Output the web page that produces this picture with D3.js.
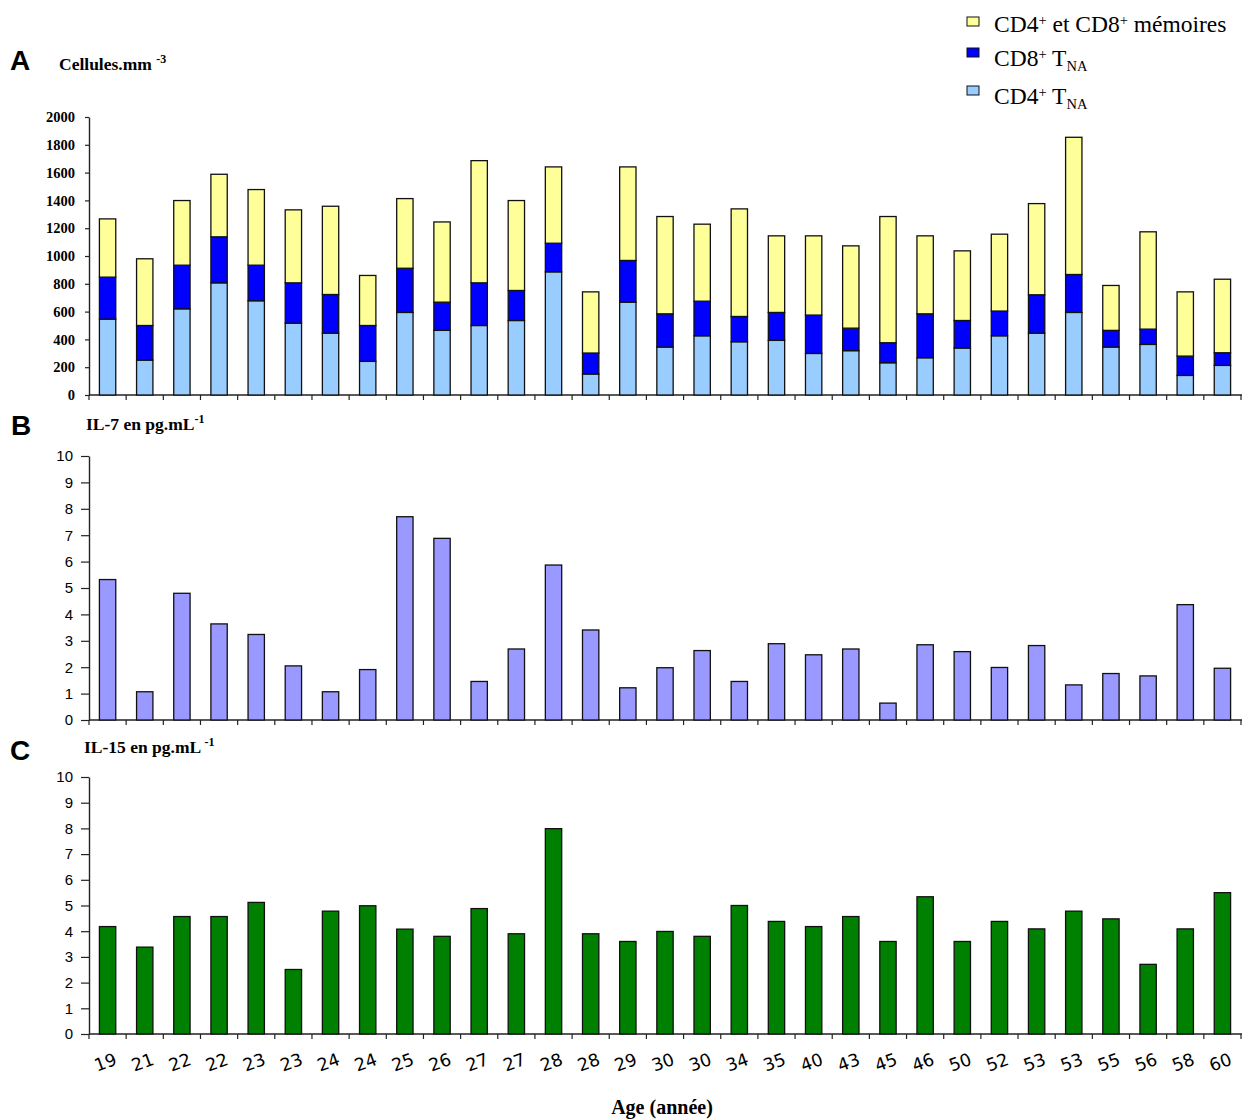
<!DOCTYPE html>
<html><head><meta charset="utf-8">
<script src="https://cdn.jsdelivr.net/npm/d3@7"></script>
<style>body{margin:0;background:#fff}svg{display:block}</style>
</head><body><svg id="c" width="1246" height="1120"></svg>
<script>
const ages=[19,21,22,22,23,23,24,24,25,26,27,27,28,28,29,30,30,34,35,40,43,45,46,50,52,53,53,55,56,58,60];
const cd4Naive=[546,251,620,807,678,517,445,242,594,465,500,536,886,151,668,345,426,383,393,299,319,232,268,338,426,445,594,345,364,141,213];
const cd8Naive=[302,249,314,331,256,290,278,258,318,203,307,216,206,151,300,239,249,182,201,276,162,144,316,198,178,276,273,120,110,139,91];
const memory=[419,480,465,450,544,525,635,360,501,577,879,647,549,440,673,700,554,774,551,570,592,908,561,501,553,656,987,323,700,462,529];
const il7=[5.32,1.07,4.8,3.64,3.24,2.05,1.07,1.91,7.7,6.88,1.46,2.69,5.87,3.41,1.22,1.98,2.63,1.46,2.89,2.47,2.69,0.64,2.85,2.59,1.99,2.82,1.33,1.76,1.67,4.37,1.96];
const il15=[4.18,3.38,4.57,4.57,5.12,2.51,4.78,4.99,4.08,3.8,4.88,3.9,7.99,3.9,3.6,3.99,3.8,5.0,4.38,4.18,4.57,3.6,5.34,3.6,4.38,4.09,4.78,4.48,2.71,4.09,5.5];
const cellTicks=[0,200,400,600,800,1000,1200,1400,1600,1800,2000];
const ilTicks=[0,1,2,3,4,5,6,7,8,9,10];
const seriesKeys=["cd4","cd8","mem"];
const seriesColors={cd4:"#99CCFF",cd8:"#0000FF",mem:"#FFFF99"};

const svg=d3.select("#c");
const x=d3.scaleBand().domain(d3.range(ages.length)).range([89,1241]).paddingInner(0.56).paddingOuter(0.28);
const gap=(x.step()-x.bandwidth())/2;

function axes(y,ticks,opts){
  const g=svg.append("g").attr("transform","translate(89,0)")
    .call(d3.axisLeft(y).tickValues(ticks).tickSize(opts.tickLen).tickSizeOuter(0).tickPadding(opts.pad).tickFormat(d3.format("d")));
  g.select(".domain").attr("stroke","#222").attr("stroke-width",1.4);
  g.selectAll(".tick line").attr("stroke","#222").attr("stroke-width",1.2);
  g.selectAll(".tick text").attr("font-family",opts.font).attr("font-size",opts.size).attr("font-weight",opts.weight).attr("fill","#000");
  const y0=y(0);
  svg.append("line").attr("x1",89).attr("x2",1242).attr("y1",y0).attr("y2",y0).attr("stroke","#222").attr("stroke-width",1.4);
  const bounds=d3.range(ages.length+1).map(i=> i<ages.length ? x(i)-gap : x(ages.length-1)+x.bandwidth()+gap);
  svg.append("g").selectAll("line").data(bounds).join("line")
    .attr("x1",d=>d).attr("x2",d=>d).attr("y1",y0).attr("y2",y0+5).attr("stroke","#222").attr("stroke-width",1.2);
}

// Panel A
const yA=d3.scaleLinear().domain([0,2000]).range([395,117]);
axes(yA,cellTicks,{tickLen:4,pad:10,font:"Liberation Serif",size:14.5,weight:"bold"});
const rows=ages.map((a,i)=>({i,cd4:cd4Naive[i],cd8:cd8Naive[i],mem:memory[i]}));
const stack=d3.stack().keys(seriesKeys)(rows);
svg.append("g").selectAll("g").data(stack).join("g").attr("fill",d=>seriesColors[d.key])
  .selectAll("rect").data(d=>d).join("rect")
  .attr("x",d=>x(d.data.i)).attr("width",x.bandwidth())
  .attr("y",d=>yA(d[1])).attr("height",d=>yA(d[0])-yA(d[1]))
  .attr("stroke","#111").attr("stroke-width",1.3);

// Panel B
const yB=d3.scaleLinear().domain([0,10]).range([720,456]);
axes(yB,ilTicks,{tickLen:8,pad:8,font:"Liberation Sans",size:15,weight:"normal"});
svg.append("g").selectAll("rect").data(il7).join("rect")
  .attr("x",(d,i)=>x(i)).attr("width",x.bandwidth()).attr("y",d=>yB(d)).attr("height",d=>yB(0)-yB(d))
  .attr("fill","#9999FF").attr("stroke","#111").attr("stroke-width",1.3);

// Panel C
const yC=d3.scaleLinear().domain([0,10]).range([1034,777]);
axes(yC,ilTicks,{tickLen:8,pad:8,font:"Liberation Sans",size:15,weight:"normal"});
svg.append("g").selectAll("rect").data(il15).join("rect")
  .attr("x",(d,i)=>x(i)).attr("width",x.bandwidth()).attr("y",d=>yC(d)).attr("height",d=>yC(0)-yC(d))
  .attr("fill","#008000").attr("stroke","#111").attr("stroke-width",1.3);

// x labels
svg.append("g").selectAll("text").data(ages).join("text")
  .attr("transform",(d,i)=>`translate(${x(i)+x.bandwidth()/2},1068) rotate(-20)`)
  .attr("text-anchor","middle").attr("font-family","DejaVu Sans").attr("font-size",17.5).text(d=>d);

svg.append("text").attr("x",662).attr("y",1114).attr("text-anchor","middle")
  .attr("font-family","Liberation Serif").attr("font-weight","bold").attr("font-size",20).text("Age (année)");

// Panel letters and titles
function letter(t,xx,yy){svg.append("text").attr("x",xx).attr("y",yy).attr("font-family","Liberation Sans").attr("font-weight","bold").attr("font-size",28).text(t);}
letter("A",10,70);letter("B",11,435);letter("C",10,760);
function title(main,sup,xx,yy){
  const t=svg.append("text").attr("x",xx).attr("y",yy).attr("font-family","Liberation Serif").attr("font-weight","bold").attr("font-size",17.5);
  t.append("tspan").text(main);
  t.append("tspan").attr("dy",-7).attr("font-size",12).text(sup);
}
title("Cellules.mm ","-3",59,70);
title("IL-7 en pg.mL","-1",86,430);
title("IL-15 en pg.mL ","-1",84,753);

// Legend
const legend=[
  {key:"mem",parts:[["CD4",0],["+","sup"],[" et CD8",0],["+","sup"],[" mémoires",0]],y:32,sy:17},
  {key:"cd8",parts:[["CD8",0],["+","sup"],[" T",0],["NA","sub"]],y:66,sy:48},
  {key:"cd4",parts:[["CD4",0],["+","sup"],[" T",0],["NA","sub"]],y:104,sy:86}
];
legend.forEach(l=>{
  svg.append("rect").attr("x",967).attr("y",l.sy).attr("width",12).attr("height",9).attr("fill",seriesColors[l.key]).attr("stroke","#111").attr("stroke-width",1);
  const t=svg.append("text").attr("x",994).attr("y",l.y).attr("font-family","Liberation Serif").attr("font-size",23.5);
  let shift=0;
  l.parts.forEach(([s,k])=>{
    const sp=t.append("tspan").text(s);
    let target= k==="sup"?-7:(k==="sub"?5:0);
    sp.attr("dy",target-shift); shift=target;
    if(k) sp.attr("font-size",14.5);
  });
});
</script></body></html>
